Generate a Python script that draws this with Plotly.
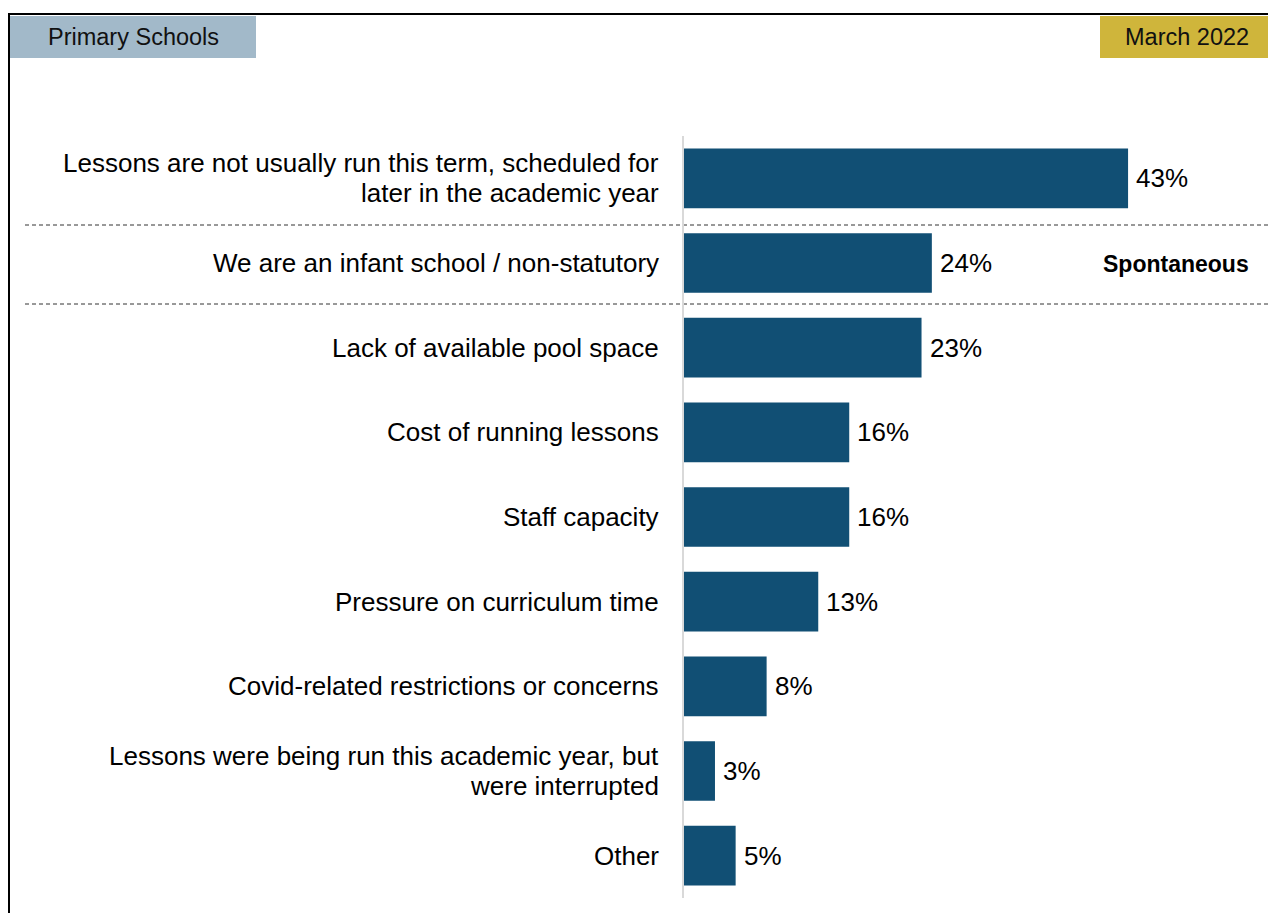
import plotly.graph_objects as go

# Survey reasons, in display order (top to bottom)
reasons = [
    "Lessons are not usually run this term, scheduled for<br>later in the academic year",
    "We are an infant school / non-statutory",
    "Lack of available pool space",
    "Cost of running lessons",
    "Staff capacity",
    "Pressure on curriculum time",
    "Covid-related restrictions or concerns",
    "Lessons were being run this academic year, but<br>were interrupted",
    "Other",
]
shares = [43, 24, 23, 16, 16, 13, 8, 3, 5]
value_labels = ["43%", "24%", "23%", "16%", "16%", "13%", "8%", "3%", "5%"]

W, H = 1268, 913
PL, PR, PT, PB = 684, 1252, 136, 898   # plot area in pixels
BAR = "#114f74"
FONT = "Liberation Sans, Arial, sans-serif"
LINE_STEP = 30  # pixel spacing between wrapped label lines


def px(x):
    return (x - PL) / (PR - PL)


def py(y):
    return (PB - y) / (PB - PT)


ypos = list(range(len(reasons)))

fig = go.Figure(
    go.Bar(
        x=shares,
        y=ypos,
        orientation="h",
        marker=dict(color=BAR, line=dict(width=0)),
        width=0.705,
        hoverinfo="skip",
    )
)

annotations = []
# category labels, right aligned left of the axis; wrapped lines placed one by one
for i, r in enumerate(reasons):
    lines = r.split("<br>")
    n = len(lines)
    for k, line in enumerate(lines):
        annotations.append(dict(
            x=px(661), xref="paper", y=i, yref="y", text=line, showarrow=False,
            xanchor="right", yanchor="middle", align="right",
            yshift=((n - 1) / 2 - k) * LINE_STEP,
            font=dict(family=FONT, size=26, color="#000000"),
        ))
# value labels at the bar ends
for i, (v, t) in enumerate(zip(shares, value_labels)):
    annotations.append(dict(
        x=v, xref="x", y=i, yref="y", text=t, showarrow=False,
        xanchor="left", yanchor="middle", xshift=6,
        font=dict(family=FONT, size=26, color="#000000"),
    ))
# headers and side note
annotations += [
    dict(x=px(133), y=py(37), xref="paper", yref="paper", text="Primary Schools",
         showarrow=False, xanchor="center", yanchor="middle",
         font=dict(family=FONT, size=23.5, color="#111111")),
    dict(x=px(1187), y=py(37), xref="paper", yref="paper", text="March 2022",
         showarrow=False, xanchor="center", yanchor="middle",
         font=dict(family=FONT, size=23.5, color="#111111")),
    dict(x=px(1176), y=py(264), xref="paper", yref="paper", text="<b>Spontaneous</b>",
         showarrow=False, xanchor="center", yanchor="middle",
         font=dict(family=FONT, size=23, color="#000000")),
]

shapes = [
    # frame lines, top and left
    dict(type="line", xref="paper", yref="paper", x0=px(9), x1=px(1268), y0=py(14), y1=py(14),
         line=dict(color="#000000", width=2)),
    dict(type="line", xref="paper", yref="paper", x0=px(9), x1=px(9), y0=py(13), y1=py(913),
         line=dict(color="#000000", width=2)),
    # header boxes
    dict(type="rect", xref="paper", yref="paper", x0=px(10), x1=px(256), y0=py(58), y1=py(16),
         fillcolor="#a2b9c9", line=dict(width=0), layer="below"),
    dict(type="rect", xref="paper", yref="paper", x0=px(1100), x1=px(1268), y0=py(58), y1=py(16),
         fillcolor="#cfb53b", line=dict(width=0), layer="below"),
    # dashed separators
    dict(type="line", xref="paper", yref="paper", x0=px(25), x1=px(1268), y0=py(225), y1=py(225),
         line=dict(color="#333333", width=1, dash="4px,3px")),
    dict(type="line", xref="paper", yref="paper", x0=px(25), x1=px(1268), y0=py(304), y1=py(304),
         line=dict(color="#333333", width=1, dash="4px,3px")),
    # category axis line
    dict(type="line", xref="paper", yref="paper", x0=px(683), x1=px(683), y0=0, y1=1,
         line=dict(color="#d9d9d9", width=2)),
]

fig.update_layout(
    width=W, height=H,
    margin=dict(l=PL, r=W - PR, t=PT, b=H - PB, pad=0),
    paper_bgcolor="#ffffff", plot_bgcolor="#ffffff",
    showlegend=False,
    bargap=0.3,
    xaxis=dict(range=[0, 55], visible=False, fixedrange=True),
    yaxis=dict(range=[len(reasons) - 0.5, -0.5], showticklabels=False, showgrid=False,
               zeroline=False, showline=False, ticks="", fixedrange=True),
    annotations=annotations,
    shapes=shapes,
    font=dict(family=FONT),
)

fig.write_html("out.html", config={"displayModeBar": False})
